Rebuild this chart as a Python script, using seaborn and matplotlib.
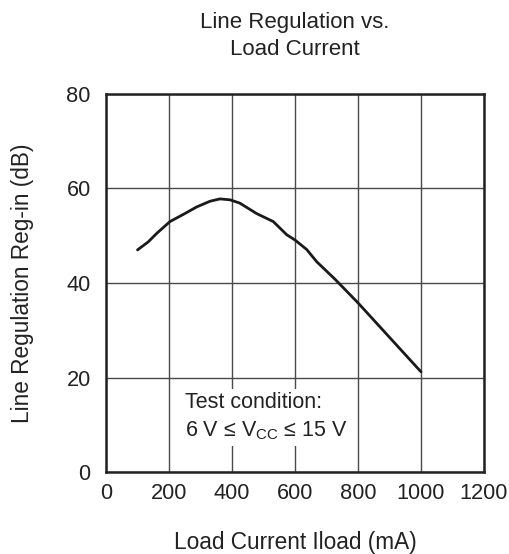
import matplotlib
matplotlib.use("Agg")
import matplotlib.pyplot as plt
import seaborn as sns
import pandas as pd

# Data
load_current_ma = [100, 134, 161, 203, 245, 288, 330, 362, 394, 425, 478, 531,
                   574, 600, 637, 669, 727, 800, 900, 1000]
line_regulation_db = [47.0, 48.7, 50.5, 53.0, 54.5, 56.1, 57.3, 57.8, 57.6, 56.9,
                      54.7, 53.0, 50.2, 49.1, 47.1, 44.5, 40.8, 35.8, 28.5, 21.2]
x_ticks = [0, 200, 400, 600, 800, 1000, 1200]
y_ticks = [0, 20, 40, 60, 80]

sns.set_style("white")
plt.rcParams['font.family'] = ['Liberation Sans', 'DejaVu Sans']
plt.rcParams['mathtext.fontset'] = 'custom'
plt.rcParams['mathtext.rm'] = 'Liberation Sans'
plt.rcParams['mathtext.it'] = 'Liberation Sans'
plt.rcParams['mathtext.bf'] = 'Liberation Sans:bold'

df = pd.DataFrame({"Load Current": load_current_ma, "Line Regulation": line_regulation_db})

fig = plt.figure(figsize=(5.09, 5.54), dpi=100)
ax = fig.add_axes([106/509, 1 - 472/554, 378/509, 378/554])

sns.lineplot(data=df, x="Load Current", y="Line Regulation", ax=ax,
             color="#1a1a1a", linewidth=2.0, zorder=3)

ax.set_xlim(0, 1200)
ax.set_ylim(0, 80)
ax.set_xticks(x_ticks)
ax.set_yticks(y_ticks)
ax.grid(True, color="#4a4a4a", linewidth=1.0)
ax.set_axisbelow(True)
for s in ax.spines.values():
    s.set_visible(True)
    s.set_linewidth(1.8)
    s.set_color("#222222")
ax.tick_params(axis='both', length=0, labelsize=15.7, colors="#222222")
ax.tick_params(axis='x', pad=8)
ax.tick_params(axis='y', pad=11)

ax.set_xlabel("Load Current Iload (mA)", fontsize=16.3, color="#222222", labelpad=19)
ax.set_ylabel("Line Regulation Reg-in (dB)", fontsize=16.3, color="#222222", labelpad=23)
ax.set_title("Line Regulation vs.\nLoad Current", fontsize=16, color="#222222",
             pad=28, linespacing=1.4)

ax.text(251, 16.9, "Test condition:\n6 V \u2264 V$_{\\mathrm{CC}}$ \u2264 15 V",
        fontsize=15.5, color="#222222", va='top', ha='left', zorder=4,
        linespacing=1.35,
        bbox=dict(facecolor='white', edgecolor='none', pad=3))

fig.savefig("out.png", dpi=100)
